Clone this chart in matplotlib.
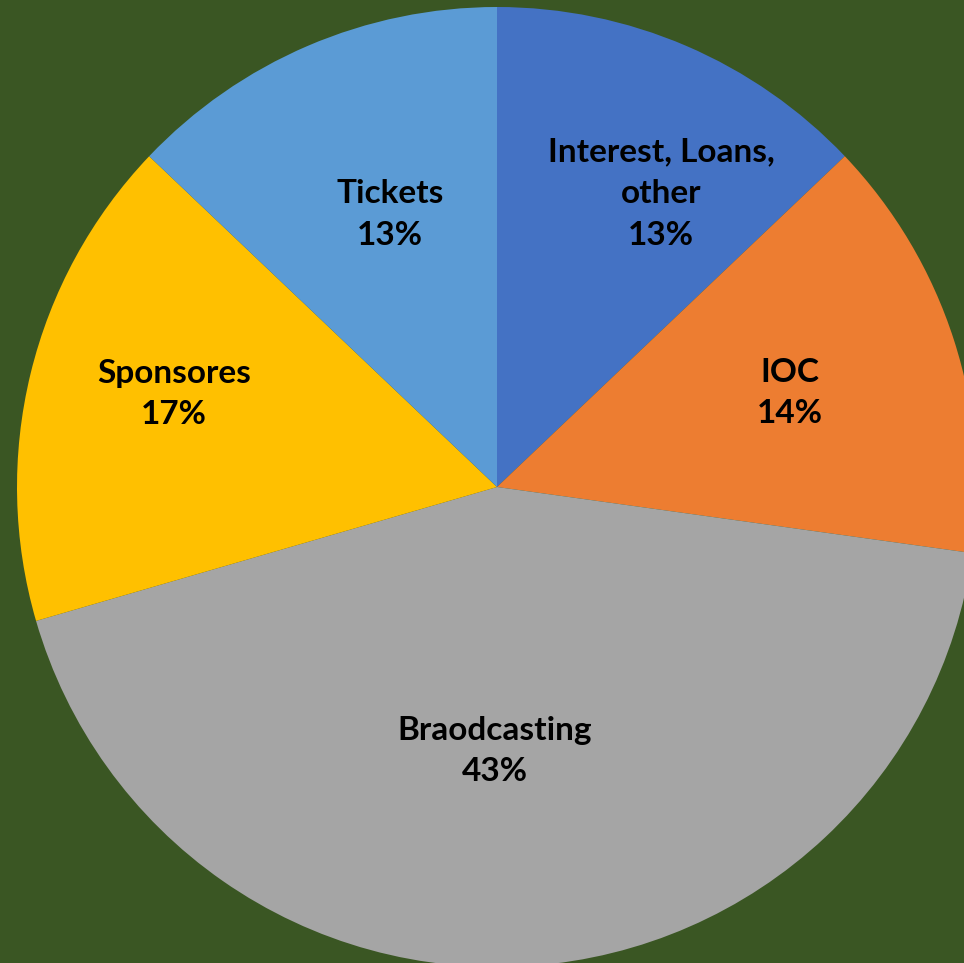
import numpy as np
import matplotlib.pyplot as plt

# revenue shares (clockwise from 12 o'clock)
labels = ['Interest, Loans,\nother', 'IOC', 'Braodcasting', 'Sponsores', 'Tickets']
shares = [12.9, 14.3, 43.3, 16.6, 12.9]
colors = ['#4472C4', '#ED7D31', '#A5A5A5', '#FFC000', '#5B9BD5']
# label placement inside each wedge: radius and how far along the wedge
label_r = [0.70, 0.64, 0.55, 0.70, 0.61]
label_f = [0.63, 0.50, 0.53, 0.54, 0.54]

bg = '#3A5623'

fig = plt.figure(figsize=(9.64, 9.63), dpi=100, facecolor=bg)
ax = fig.add_axes([0, 0, 1, 1])
ax.set_facecolor(bg)

wedges, _ = ax.pie(shares, colors=colors, startangle=90, counterclock=False,
                   radius=1.0, wedgeprops=dict(linewidth=0))

total = sum(shares)
for w, lab, s, r, f in zip(wedges, labels, shares, label_r, label_f):
    # clockwise wedges: theta2 is the start, theta1 the end
    ang = np.deg2rad(w.theta2 + (w.theta1 - w.theta2) * f)
    x, y = r * np.cos(ang), r * np.sin(ang)
    ax.text(x, y, f'{lab}\n{round(s / total * 100):.0f}%', ha='center', va='center',
            fontsize=24, fontweight='bold', family=['Lato', 'DejaVu Sans'],
            color='black', linespacing=1.53)

ax.set_xlim(-497 / 480, (964 - 497) / 480)
ax.set_ylim(-(963 - 487) / 480, 487 / 480)
ax.set_aspect('auto')
ax.axis('off')

fig.savefig('out.png', dpi=100, facecolor=bg)
